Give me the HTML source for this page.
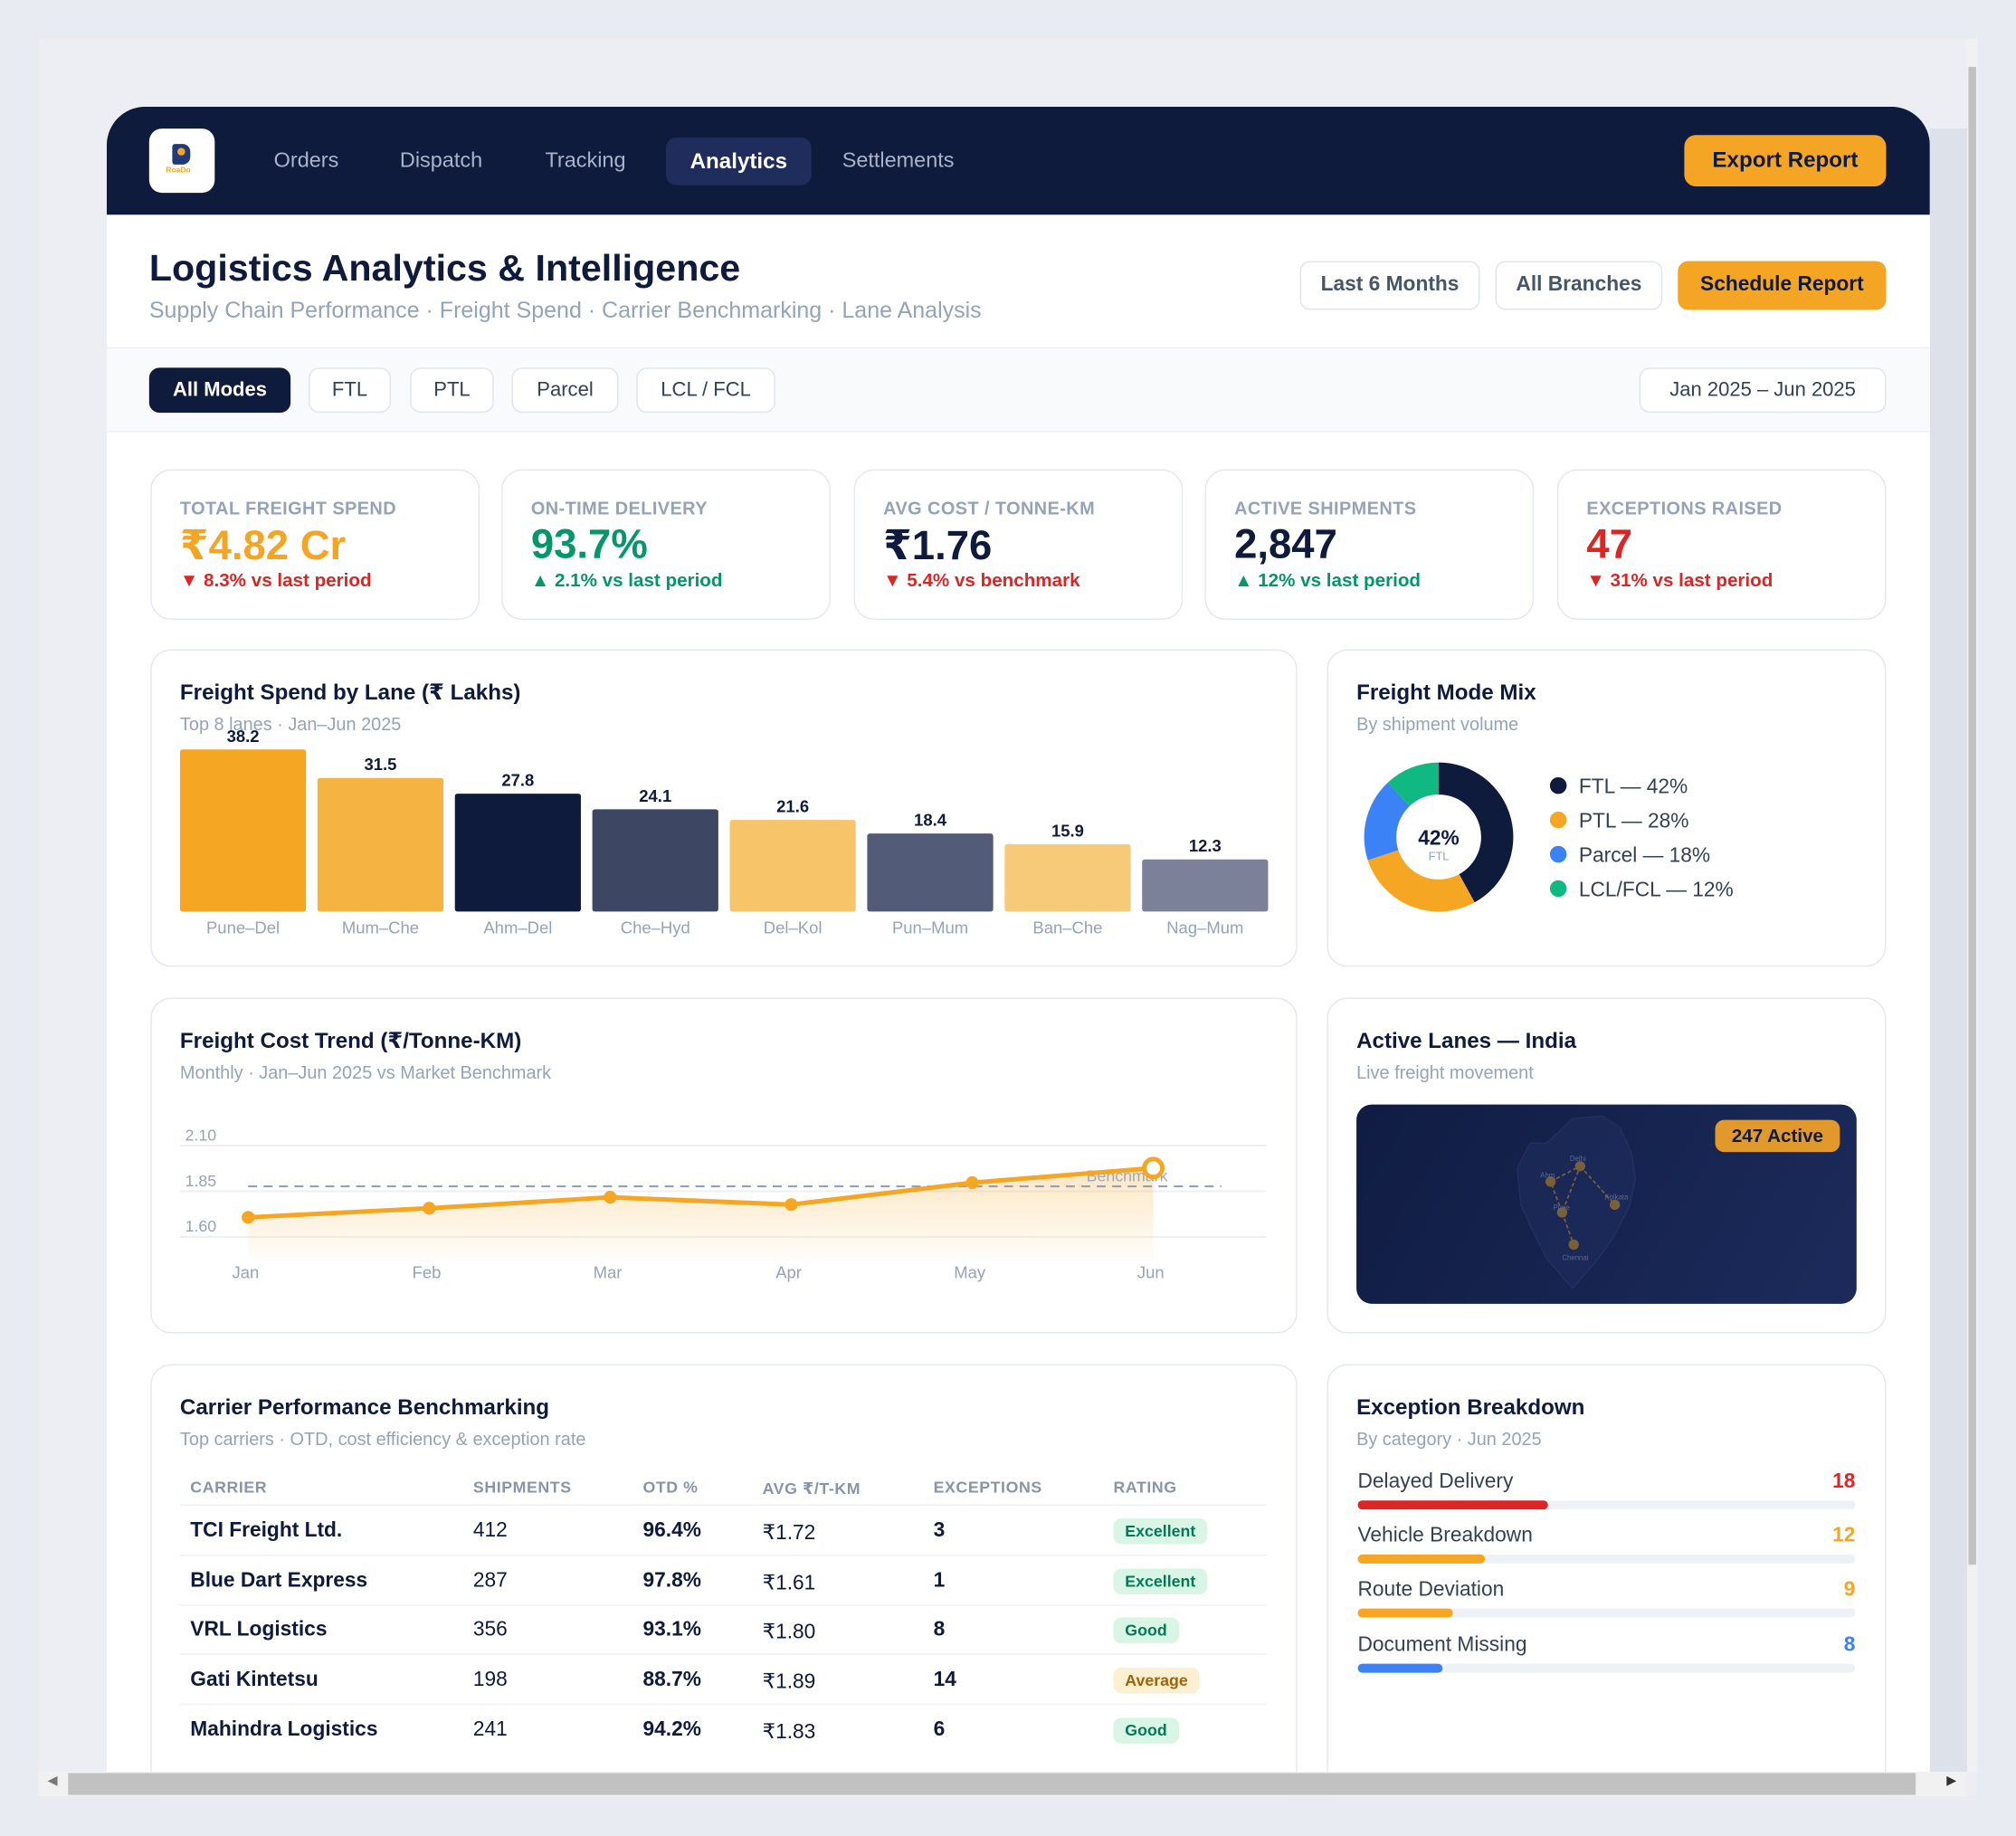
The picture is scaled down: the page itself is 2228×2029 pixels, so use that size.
<!DOCTYPE html>
<html><head><meta charset="utf-8"><style>
*{box-sizing:border-box;margin:0;padding:0}
html,body{width:2228px;height:2028px;overflow:hidden;background:#e8ebf1;font-family:"Liberation Sans","DejaVu Sans",sans-serif}
#root{position:absolute;left:0;top:0;width:1568px;height:1428px;transform:scale(1.42092);transform-origin:0 0}
.a{position:absolute}
.card{position:absolute;background:#fff;border:1.5px solid #e3e8f0;border-radius:16px}
.t{position:absolute;white-space:nowrap}
.btn{position:absolute;border:1.5px solid #dfe4ec;border-radius:8px;background:#fff;color:#475569;font-size:16px;font-weight:bold;display:flex;align-items:center;justify-content:center}
.pill{position:absolute;border:1.5px solid #dfe4ec;border-radius:8px;background:#fff;color:#334155;font-size:15.5px;display:flex;align-items:center;justify-content:center;height:35px;top:286px}
.kl{font-size:14px;color:#94a3b8;font-weight:bold;letter-spacing:.3px}
.kv{font-size:32px;font-weight:bold}
.kd{font-size:14.5px;font-weight:bold}
.ct{font-size:17px;font-weight:bold;color:#0f1b3d}
.cs{font-size:14px;color:#94a3b8}
.badge{position:absolute;font-size:12.5px;font-weight:bold;border-radius:6px;padding:3px 9px}
</style></head><body>
<div id="root">
<div class="a" style="left:30px;top:30px;width:1508px;height:1368px;background:#eceef4"></div>
<div class="a" style="left:1501px;top:100px;width:29px;height:1278px;background:#dde2ea"></div>
<div class="a" style="left:83px;top:83px;width:1418px;height:1300px;background:#fff;border-radius:30px 30px 0 0;overflow:hidden">
  <div class="a" style="left:0;top:0;width:1418px;height:84px;background:#0f1b3d"></div>
</div>
<div class="a" style="left:116px;top:100px;width:51px;height:50px;background:#fff;border-radius:10px">
  <div class="a" style="left:18px;top:12px;width:14px;height:16px;background:#1e3a7a;border-radius:2px 6px 6px 2px"></div>
  <div class="a" style="left:22px;top:15px;width:6px;height:6px;background:#f5a524;border-radius:50%"></div>
  <div class="t" style="left:13px;top:30px;font-size:6px;font-weight:bold;color:#f5a524">RoaDo</div>
</div>
<div class="t" style="left:213px;top:116px;font-size:16.5px;color:#aab4c8">Orders</div>
<div class="t" style="left:311px;top:116px;font-size:16.5px;color:#aab4c8">Dispatch</div>
<div class="t" style="left:424px;top:116px;font-size:16.5px;color:#aab4c8">Tracking</div>
<div class="a" style="left:518px;top:107px;width:113px;height:37px;background:#1e2d5c;border-radius:8px;color:#fff;font-size:17px;font-weight:bold;display:flex;align-items:center;justify-content:center">Analytics</div>
<div class="t" style="left:655px;top:116px;font-size:16.5px;color:#aab4c8">Settlements</div>
<div class="a" style="left:1310px;top:105px;width:157px;height:40px;background:#f5a524;border-radius:9px;color:#0f1b3d;font-size:17px;font-weight:bold;display:flex;align-items:center;justify-content:center">Export Report</div>

<div class="t" style="left:116px;top:193px;font-size:29px;font-weight:bold;color:#0f1b3d">Logistics Analytics &amp; Intelligence</div>
<div class="t" style="left:116px;top:231px;font-size:17.6px;color:#94a3b8">Supply Chain Performance · Freight Spend · Carrier Benchmarking · Lane Analysis</div>
<div class="btn" style="left:1011px;top:203px;width:140px;height:38px">Last 6 Months</div>
<div class="btn" style="left:1163px;top:203px;width:130px;height:38px">All Branches</div>
<div class="btn" style="left:1305px;top:203px;width:162px;height:38px;background:#f5a524;border-color:#f5a524;color:#0f1b3d">Schedule Report</div>

<div class="a" style="left:83px;top:270px;width:1418px;height:66px;background:#f8fafc;border-top:1px solid #edf0f5;border-bottom:1px solid #edf0f5"></div>
<div class="pill" style="left:116px;width:110px;background:#0f1b3d;border-color:#0f1b3d;color:#fff;font-weight:bold">All Modes</div>
<div class="pill" style="left:240px;width:64px">FTL</div>
<div class="pill" style="left:319px;width:65px">PTL</div>
<div class="pill" style="left:398px;width:83px">Parcel</div>
<div class="pill" style="left:495px;width:108px">LCL / FCL</div>
<div class="pill" style="left:1275px;width:192px">Jan 2025 – Jun 2025</div>

<div class="card" style="left:117px;top:365px;width:256px;height:117px">
 <div class="t kl" style="left:22px;top:21px">TOTAL FREIGHT SPEND</div><div class="t kv" style="left:22px;top:39px;color:#f5a524">₹4.82 Cr</div><div class="t kd" style="left:22px;top:78px;color:#dc2626">▼ 8.3% vs last period</div></div>
<div class="card" style="left:390px;top:365px;width:256px;height:117px">
 <div class="t kl" style="left:22px;top:21px">ON-TIME DELIVERY</div><div class="t kv" style="left:22px;top:39px;color:#059669">93.7%</div><div class="t kd" style="left:22px;top:78px;color:#059669">▲ 2.1% vs last period</div></div>
<div class="card" style="left:664px;top:365px;width:256px;height:117px">
 <div class="t kl" style="left:22px;top:21px">AVG COST / TONNE-KM</div><div class="t kv" style="left:22px;top:39px;color:#0f1b3d">₹1.76</div><div class="t kd" style="left:22px;top:78px;color:#dc2626">▼ 5.4% vs benchmark</div></div>
<div class="card" style="left:937px;top:365px;width:256px;height:117px">
 <div class="t kl" style="left:22px;top:21px">ACTIVE SHIPMENTS</div><div class="t kv" style="left:22px;top:39px;color:#0f1b3d">2,847</div><div class="t kd" style="left:22px;top:78px;color:#059669">▲ 12% vs last period</div></div>
<div class="card" style="left:1211px;top:365px;width:256px;height:117px">
 <div class="t kl" style="left:22px;top:21px">EXCEPTIONS RAISED</div><div class="t kv" style="left:22px;top:39px;color:#dc2626">47</div><div class="t kd" style="left:22px;top:78px;color:#dc2626">▼ 31% vs last period</div></div>

<div class="card" style="left:117px;top:505px;width:892px;height:247px">
 <div class="t ct" style="left:22px;top:23px">Freight Spend by Lane (₹ Lakhs)</div>
 <div class="t cs" style="left:22px;top:49px">Top 8 lanes · Jan–Jun 2025</div>
</div>
<svg class="a" id="bars" style="left:0;top:0" width="1568" height="1428"></svg>

<div class="card" style="left:1032px;top:505px;width:435px;height:247px">
 <div class="t ct" style="left:22px;top:23px">Freight Mode Mix</div>
 <div class="t cs" style="left:22px;top:49px">By shipment volume</div>
</div>
<svg class="a" id="donut" style="left:0;top:0" width="1568" height="1428"></svg>

<div class="card" style="left:117px;top:776px;width:892px;height:261px">
 <div class="t ct" style="left:22px;top:23px">Freight Cost Trend (₹/Tonne-KM)</div>
 <div class="t cs" style="left:22px;top:49px">Monthly · Jan–Jun 2025 vs Market Benchmark</div>
</div>
<svg class="a" id="trend" style="left:0;top:0" width="1568" height="1428"></svg>

<div class="card" style="left:1032px;top:776px;width:435px;height:261px">
 <div class="t ct" style="left:22px;top:23px">Active Lanes — India</div>
 <div class="t cs" style="left:22px;top:49px">Live freight movement</div>
 <div class="a" style="left:22px;top:82px;width:389px;height:155px;border-radius:12px;background:linear-gradient(120deg,#101c42,#1c2b5c)">
  <svg width="389" height="155" style="position:absolute;left:0;top:0">
   <path d="M148,30 L168,11 L191,9 L205,18 L214,38 L217,58 L212,80 L200,103 L188,120 L168,143 L148,120 L138,100 L128,78 L125,50 L135,30 Z" fill="#1e2d5e" stroke="#2a3a70" stroke-width="1" opacity=".6"/>
   <g stroke="#7a6038" stroke-width="1.2" stroke-dasharray="3,2" fill="none"><path d="M151,60 L174,48 L160,84 L151,60 M174,48 L201,78 M160,84 L169,109"/></g>
   <g fill="#7a6038"><circle cx="174" cy="48" r="4"/><circle cx="151" cy="60" r="4"/><circle cx="201" cy="78" r="4"/><circle cx="160" cy="84" r="4"/><circle cx="169" cy="109" r="4"/></g>
   <g fill="#5f6a8a" font-size="5.5" font-family="Liberation Sans"><text x="166" y="44">Delhi</text><text x="143" y="57">Ahm</text><text x="193" y="74">Kolkata</text><text x="153" y="82">Pune</text><text x="160" y="121">Chennai</text></g>
  </svg>
  <div class="a" style="left:279px;top:12px;width:97px;height:25px;background:#e0992a;border-radius:7px;color:#0f1b3d;font-size:14.5px;font-weight:bold;display:flex;align-items:center;justify-content:center">247 Active</div>
 </div>
</div>

<div class="card" style="left:117px;top:1061px;width:892px;height:340px">
 <div class="t ct" style="left:22px;top:23px">Carrier Performance Benchmarking</div>
 <div class="t cs" style="left:22px;top:49px">Top carriers · OTD, cost efficiency &amp; exception rate</div>
</div>
<div id="table"></div>

<div class="card" style="left:1032px;top:1061px;width:435px;height:340px">
 <div class="t ct" style="left:22px;top:23px">Exception Breakdown</div>
 <div class="t cs" style="left:22px;top:49px">By category · Jun 2025</div>
</div>
<div id="exc"></div>

<div class="a" style="left:0;top:1397px;width:1568px;height:31px;background:#e8ebf2"></div>
<div class="a" style="left:30px;top:1378px;width:1500px;height:19px;background:#f1f1f1">
 <div class="a" style="left:23px;top:1px;width:1437px;height:17px;background:#c1c1c1"></div>
 <div class="t" style="left:7px;top:2px;font-size:10px;color:#777">◀</div><div class="t" style="left:1484px;top:2px;font-size:10px;color:#333">▶</div>
</div>
<div class="a" style="left:1530px;top:30px;width:8px;height:1348px;background:#f1f1f1">
 <div class="a" style="left:1px;top:22px;width:6px;height:1165px;background:#c1c1c1"></div>
</div>
</div>
<script>
const NS="http://www.w3.org/2000/svg";
function mk(p,tag,at){const e=document.createElementNS(NS,tag);for(const k in at)e.setAttribute(k,at[k]);p.appendChild(e);return e;}
const laneNames=["Pune–Del","Mum–Che","Ahm–Del","Che–Hyd","Del–Kol","Pun–Mum","Ban–Che","Nag–Mum"];
const laneSpend=[38.2,31.5,27.8,24.1,21.6,18.4,15.9,12.3];
const laneColors=["#f5a623","#f5b342","#0f1b3d","#3d4763","#f7c46a","#525c78","#f7ca7a","#7a8198"];
const bs=document.getElementById('bars');
const bx=i=>140+i*106.9, bw=98, by0=709, byS=v=>v*3.3;
laneSpend.forEach((v,i)=>{
 const r=mk(bs,'rect',{x:bx(i),y:by0-byS(v),width:bw,height:byS(v),fill:laneColors[i],rx:2});
 
 
 const t=mk(bs,'text',{x:bx(i)+bw/2,y:by0-byS(v)-6,'text-anchor':'middle','font-size':13,'font-weight':'bold',fill:'#0f1b3d','font-family':'Liberation Sans'});t.textContent=v.toFixed(1);
 
 
 const l=mk(bs,'text',{x:bx(i)+bw/2,y:726,'text-anchor':'middle','font-size':13,fill:'#94a3b8','font-family':'Liberation Sans'});l.textContent=laneNames[i];
 
 
});
const modeNames=["FTL","PTL","Parcel","LCL/FCL"];
const modeShare=[42,28,18,12];
const modeColors=["#0f1b3d","#f5a623","#3b82f6","#10b981"];
const ds=document.getElementById('donut');
const cx=1119,cy=651,R=58,r0=33;
let a0=-Math.PI/2;
modeShare.forEach((v,i)=>{
 const a1=a0+v/100*2*Math.PI, lg=(a1-a0)>Math.PI?1:0;
 const p=(a,rr)=>[cx+rr*Math.cos(a),cy+rr*Math.sin(a)];
 const [x1,y1]=p(a0,R),[x2,y2]=p(a1,R),[x3,y3]=p(a1,r0),[x4,y4]=p(a0,r0);
 const s=mk(ds,'path',{d:`M${x1},${y1}A${R},${R} 0 ${lg} 1 ${x2},${y2}L${x3},${y3}A${r0},${r0} 0 ${lg} 0 ${x4},${y4}Z`,fill:modeColors[i]});
 
 
 a0=a1;
 mk(ds,'circle',{cx:1212,cy:611+i*26.7,r:6.5,fill:modeColors[i]});
 const t=mk(ds,'text',{x:1228,y:617+i*26.7,'font-size':16,fill:'#334155','font-family':'Liberation Sans'});t.textContent=modeNames[i]+' — '+v+'%';
 
 
});
let ct=mk(ds,'text',{x:cx,y:657,'text-anchor':'middle','font-size':16,'font-weight':'bold',fill:'#0f1b3d','font-family':'Liberation Sans'});ct.textContent=modeShare[0]+'%';
ct=mk(ds,'text',{x:cx,y:669,'text-anchor':'middle','font-size':9,fill:'#94a3b8','font-family':'Liberation Sans'});ct.textContent='FTL';
const months=["Jan","Feb","Mar","Apr","May","Jun"];
const costValues=[1.70,1.75,1.81,1.77,1.89,1.97];
const benchmarkValue=1.87;
const yTicks=[1.60,1.85,2.10];
const ts=document.getElementById('trend');
const tx=i=>193+i*140.8, ty=v=>961-(v-1.60)*142;
const defs=mk(ts,'defs',{});const g=mk(defs,'linearGradient',{id:'fg',x1:0,y1:0,x2:0,y2:1});
mk(g,'stop',{offset:0,'stop-color':'#f5a623','stop-opacity':.28});mk(g,'stop',{offset:1,'stop-color':'#f5a623','stop-opacity':.02});
yTicks.forEach(v=>{mk(ts,'line',{x1:140,x2:985,y1:ty(v)+1,y2:ty(v)+1,stroke:'#edf1f6','stroke-width':1.5});
 const t=mk(ts,'text',{x:144,y:ty(v)-3,'font-size':12.5,fill:'#94a3b8','font-family':'Liberation Sans'});t.textContent=v.toFixed(2);
 
 });
const pts=costValues.map((v,i)=>[tx(i),ty(v)]);
mk(ts,'path',{d:'M'+pts.map(p=>p.join(',')).join('L')+`L${tx(5)},981L${tx(0)},981Z`,fill:'url(#fg)'});
const bl=mk(ts,'line',{x1:193,x2:950,y1:ty(benchmarkValue),y2:ty(benchmarkValue),stroke:'#94a0b4','stroke-width':1.5,'stroke-dasharray':'7,5'});


let bt=mk(ts,'text',{x:845,y:ty(benchmarkValue)-4,'font-size':12.5,fill:'#a0a8b8','font-family':'Liberation Sans'});bt.textContent='Benchmark';
const ln=mk(ts,'path',{d:'M'+pts.map(p=>p.join(',')).join('L'),fill:'none',stroke:'#f5a623','stroke-width':3.5,'stroke-linejoin':'round'});


pts.forEach((p,i)=>{const c=i==5?mk(ts,'circle',{cx:p[0],cy:p[1],r:7,fill:'#fff',stroke:'#f5a623','stroke-width':3.5}):mk(ts,'circle',{cx:p[0],cy:p[1],r:5,fill:'#f5a623'});
 
 
 const t=mk(ts,'text',{x:p[0]-2,y:994,'text-anchor':'middle','font-size':13,fill:'#94a3b8','font-family':'Liberation Sans'});t.textContent=months[i];
 
 });
const carriers=["TCI Freight Ltd.","Blue Dart Express","VRL Logistics","Gati Kintetsu","Mahindra Logistics"];
const shipments=[412,287,356,198,241];
const otd=["96.4%","97.8%","93.1%","88.7%","94.2%"];
const avgCost=["₹1.72","₹1.61","₹1.80","₹1.89","₹1.83"];
const exceptionsCount=[3,1,8,14,6];
const ratings=["Excellent","Excellent","Good","Average","Good"];
const tb=document.getElementById('table');
const cols=[148,368,500,593,726,866];
["CARRIER","SHIPMENTS","OTD %","AVG ₹/T-KM","EXCEPTIONS","RATING"].forEach((h,i)=>{
 const d=document.createElement('div');d.className='t';d.style.cssText=`left:${cols[i]}px;top:1150px;font-size:12.5px;font-weight:bold;color:#8a94a8;letter-spacing:.4px`;d.textContent=h;
 
 tb.appendChild(d);});
function line(y){const d=document.createElement('div');d.className='a';d.style.cssText=`left:140px;top:${y}px;width:845px;height:1px;background:#edf0f5`;tb.appendChild(d);}
line(1170);
carriers.forEach((c,r)=>{
 const y=1182+r*38.7;
 const vals=[c,shipments[r],otd[r],avgCost[r],exceptionsCount[r]];
 vals.forEach((v,i)=>{const d=document.createElement('div');d.className='t';
  d.style.cssText=`left:${cols[i]}px;top:${y}px;font-size:16px;color:#0f1b3d;font-weight:${(i==0||i==2||i==4)?'bold':'normal'}`;d.textContent=v;
  
  tb.appendChild(d);});
 const b=document.createElement('div');b.className='badge';
 const cl=ratings[r]=="Average"?['#fdf0d2','#a16207']:['#d8f5e6','#047857'];
 b.style.cssText=`left:866px;top:${y-1}px;background:${cl[0]};color:${cl[1]}`;b.textContent=ratings[r];
 
 tb.appendChild(b);
 if(r<4)line(y+27);
});
const excNames=["Delayed Delivery","Vehicle Breakdown","Route Deviation","Document Missing"];
const excCounts=[18,12,9,8];
const excColors=["#dc2626","#f5a623","#f5a623","#3b82f6"];
const ex=document.getElementById('exc');
const excTotal=47;
excNames.forEach((n,i)=>{
 const y=1144+i*42.2;
 const t=document.createElement('div');t.className='t';t.style.cssText=`left:1056px;top:${y}px;font-size:16px;color:#334155`;t.textContent=n;
 
 ex.appendChild(t);
 const v=document.createElement('div');v.className='t';v.style.cssText=`right:${1568-1443}px;top:${y}px;font-size:16px;font-weight:bold;color:${excColors[i]}`;v.textContent=excCounts[i];
 
 ex.appendChild(v);
 const tr=document.createElement('div');tr.className='a';tr.style.cssText=`left:1056px;top:${y+23}px;width:387px;height:7px;background:#eef2f7;border-radius:4px`;
 
 ex.appendChild(tr);
 const f=document.createElement('div');f.className='a';f.style.cssText=`left:1056px;top:${y+23}px;width:${excCounts[i]/excTotal*387}px;height:7px;background:${excColors[i]};border-radius:4px`;
 
 ex.appendChild(f);
});
</script>
</body></html>
